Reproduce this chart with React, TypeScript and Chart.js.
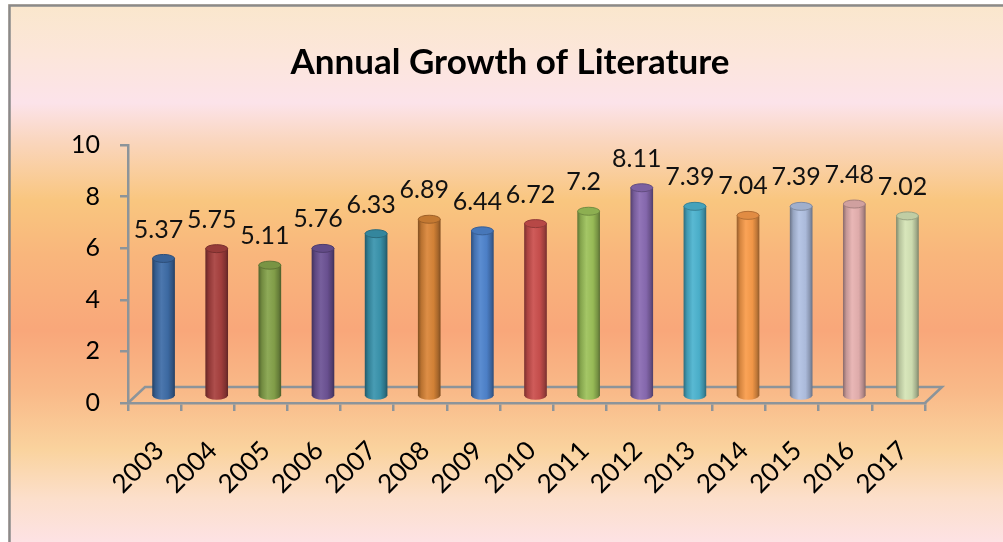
import React, { useEffect, useRef } from "react";
import { Chart, registerables } from "chart.js";

Chart.register(...registerables);

const TITLE = "Annual Growth of Literature";
const YEARS = ["2003", "2004", "2005", "2006", "2007", "2008", "2009", "2010", "2011", "2012", "2013", "2014", "2015", "2016", "2017"];
const GROWTH = [5.37, 5.75, 5.11, 5.76, 6.33, 6.89, 6.44, 6.72, 7.2, 8.11, 7.39, 7.04, 7.39, 7.48, 7.02];
const BAR_COLORS = [
  "#3F6DA8", "#A8413F", "#86A44B", "#6D5396", "#3A95AE", "#DA8638",
  "#4F84CE", "#CB504E", "#9DC25A", "#8A6BB3", "#4DB4D0", "#FA9C4A",
  "#B2C2E3", "#E7B2B1", "#D5E4B6",
];
const Y_MIN = 0;
const Y_MAX = 10;
const Y_STEP = 2;

const W = 1003;
const H = 542;
const DEPTH_X = 9;
const DEPTH_Y = -6;
const FLOOR_DX = 17;
const FLOOR_DY = -16;
const BAR_W = 22;
const AXIS_GRAY = "#8C949A";
const FONT = "Lato, 'Open Sans', sans-serif";

function hexToRgb(hex: string) {
  const h = hex.replace("#", "");
  return [parseInt(h.slice(0, 2), 16), parseInt(h.slice(2, 4), 16), parseInt(h.slice(4, 6), 16)];
}
function shade(hex: string, f: number) {
  const [r, g, b] = hexToRgb(hex);
  const adj = (c: number) => {
    if (f <= 1) return Math.round(c * f);
    return Math.round(c + (255 - c) * (f - 1));
  };
  return `rgb(${adj(r)},${adj(g)},${adj(b)})`;
}

function cylGradient(ctx: CanvasRenderingContext2D, x: number, color: string) {
  const g = ctx.createLinearGradient(x - BAR_W / 2, 0, x + BAR_W / 2, 0);
  g.addColorStop(0, shade(color, 0.62));
  g.addColorStop(0.14, shade(color, 0.85));
  g.addColorStop(0.4, shade(color, 1.07));
  g.addColorStop(0.7, shade(color, 0.96));
  g.addColorStop(0.9, shade(color, 0.76));
  g.addColorStop(1, shade(color, 0.6));
  return g;
}

const backgroundPlugin = {
  id: "bgPanel",
  beforeDraw(chart: any) {
    const ctx = chart.ctx as CanvasRenderingContext2D;
    ctx.save();
    const g = ctx.createLinearGradient(0, 0, 0, H);
    g.addColorStop(0.0, "#FAE7CB");
    g.addColorStop(0.1, "#FCE6DA");
    g.addColorStop(0.19, "#FCE3EA");
    g.addColorStop(0.26, "#FAD6BE");
    g.addColorStop(0.37, "#F9C67F");
    g.addColorStop(0.47, "#F9B67C");
    g.addColorStop(0.61, "#F9A77A");
    g.addColorStop(0.72, "#F9B988");
    g.addColorStop(0.83, "#FAD39E");
    g.addColorStop(0.92, "#FCDFCB");
    g.addColorStop(1.0, "#FDE2E4");
    ctx.fillStyle = g;
    ctx.fillRect(0, 0, W, H);
    ctx.fillStyle = "#FFFFFF";
    ctx.fillRect(0, 0, 8, H);
    ctx.fillRect(0, 0, W, 4);
    ctx.strokeStyle = "#8A8A8A";
    ctx.lineWidth = 2.5;
    ctx.beginPath();
    ctx.moveTo(9.5, H);
    ctx.lineTo(9.5, 5.5);
    ctx.lineTo(W, 5.5);
    ctx.stroke();
    // title
    ctx.fillStyle = "#000000";
    ctx.font = `bold 35px ${FONT}`;
    ctx.textAlign = "center";
    ctx.textBaseline = "alphabetic";
    ctx.fillText(TITLE, 510, 74);
    ctx.restore();
  },
};

const cylinderPlugin = {
  id: "cylinders",
  beforeDatasetsDraw(chart: any) {
    const ctx = chart.ctx as CanvasRenderingContext2D;
    const { left, right, bottom } = chart.chartArea;
    // floor outline (back edge and sides)
    ctx.save();
    ctx.strokeStyle = AXIS_GRAY;
    ctx.lineWidth = 2.5;
    ctx.beginPath();
    ctx.moveTo(left, bottom);
    ctx.lineTo(left + FLOOR_DX, bottom + FLOOR_DY);
    ctx.lineTo(right + FLOOR_DX, bottom + FLOOR_DY);
    ctx.lineTo(right, bottom);
    ctx.stroke();
    ctx.restore();
    ctx.save();
    ctx.translate(DEPTH_X, DEPTH_Y);
  },
  afterDatasetsDraw(chart: any) {
    const ctx = chart.ctx as CanvasRenderingContext2D;
    const meta = chart.getDatasetMeta(0);
    meta.data.forEach((bar: any, i: number) => {
      const { x, y, base } = bar.getProps(["x", "y", "base"], true);
      const color = BAR_COLORS[i];
      const rx = BAR_W / 2;
      const ry = 4;
      // bottom half ellipse
      ctx.beginPath();
      ctx.ellipse(x, base, rx, ry, 0, 0, Math.PI);
      ctx.closePath();
      ctx.fillStyle = cylGradient(ctx, x, color);
      ctx.fill();
      // top cap
      ctx.beginPath();
      ctx.ellipse(x, y, rx, ry, 0, 0, Math.PI * 2);
      ctx.fillStyle = shade(color, 0.9);
      ctx.fill();
      ctx.strokeStyle = shade(color, 0.72);
      ctx.lineWidth = 1;
      ctx.stroke();
    });
    ctx.restore();
    // value labels
    const xs = chart.scales.x;
    const ys = chart.scales.y;
    ctx.save();
    ctx.fillStyle = "#111111";
    ctx.font = `25px ${FONT}`;
    ctx.textAlign = "center";
    ctx.textBaseline = "middle";
    GROWTH.forEach((v, i) => {
      const px = xs.getPixelForValue(i) + 4;
      const py = ys.getPixelForValue(v) - 35;
      ctx.fillText(String(v), px, py);
    });
    ctx.restore();
  },
};

export default function App() {
  const ref = useRef<HTMLCanvasElement | null>(null);
  useEffect(() => {
    if (!ref.current) return;
    const chart = new Chart(ref.current, {
      type: "bar",
      data: {
        labels: YEARS,
        datasets: [
          {
            label: TITLE,
            data: GROWTH,
            barThickness: BAR_W,
            borderWidth: 0,
            backgroundColor: (c: any) => {
              const ch = c.chart;
              const color = BAR_COLORS[c.dataIndex] || BAR_COLORS[0];
              if (!ch.chartArea || !ch.scales.x) return color;
              const x = ch.scales.x.getPixelForValue(c.dataIndex);
              return cylGradient(ch.ctx, x, color);
            },
          },
        ],
      },
      options: {
        responsive: false,
        animation: false,
        events: [],
        layout: { padding: { top: 145, right: 78, left: 0, bottom: 0 } },
        plugins: {
          legend: { display: false },
          title: { display: false },
          tooltip: { enabled: false },
        },
        scales: {
          x: {
            type: "category",
            offset: true,
            afterFit: (s: any) => {
              s.height = H - 403;
            },
            border: { display: true, color: AXIS_GRAY, width: 2.5 },
            grid: {
              offset: true,
              drawOnChartArea: false,
              drawTicks: true,
              tickLength: 8,
              color: AXIS_GRAY,
              lineWidth: 2.5,
            },
            ticks: {
              minRotation: 45,
              maxRotation: 45,
              autoSkip: false,
              labelOffset: 5,
              padding: 24,
              color: "#000000",
              font: { family: FONT, size: 26 },
            },
          },
          y: {
            min: Y_MIN,
            max: Y_MAX,
            afterFit: (s: any) => {
              s.width = 128;
            },
            border: { display: true, color: AXIS_GRAY, width: 2.5 },
            grid: {
              drawOnChartArea: false,
              drawTicks: true,
              tickLength: 8,
              color: AXIS_GRAY,
              lineWidth: 2.5,
            },
            ticks: {
              stepSize: Y_STEP,
              padding: 20,
              color: "#000000",
              font: { family: FONT, size: 25 },
            },
          },
        },
      },
      plugins: [backgroundPlugin, cylinderPlugin],
    } as any);
    return () => chart.destroy();
  }, []);
  return (
    <div style={{ position: "absolute", left: 0, top: 0, width: W, height: H }}>
      <canvas ref={ref} width={W} height={H} style={{ display: "block", width: W, height: H }} />
    </div>
  );
}
